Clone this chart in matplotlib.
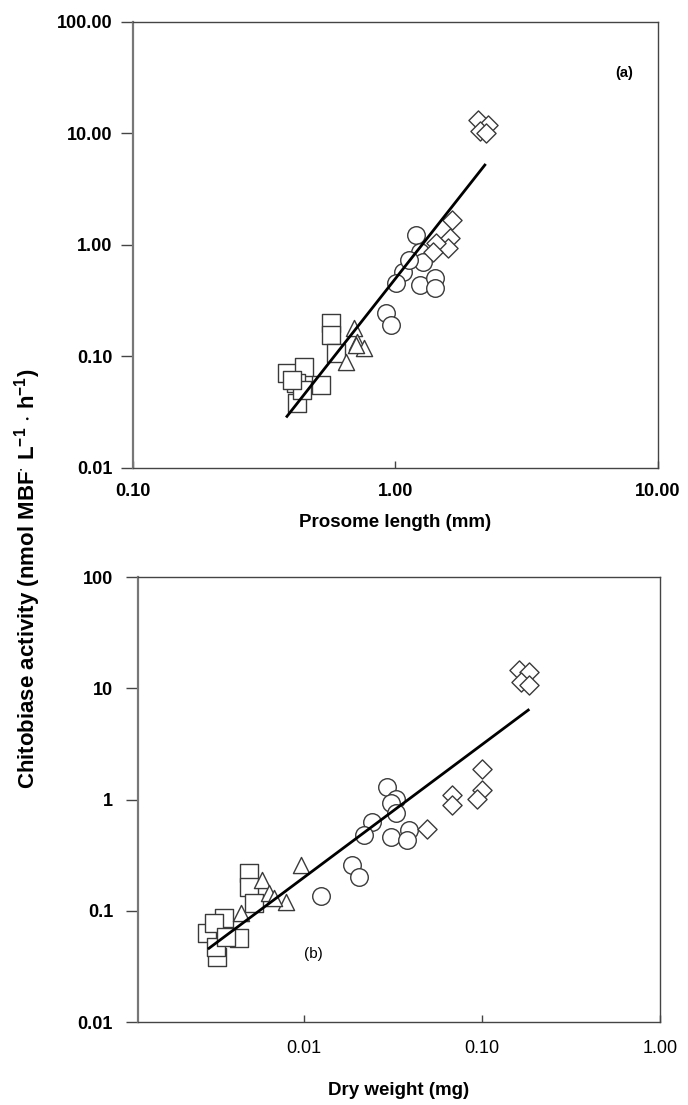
import numpy as np
import matplotlib
matplotlib.use("Agg")
import matplotlib.pyplot as plt
from matplotlib.ticker import FixedLocator, NullLocator

plt.rcParams['font.family'] = ['Liberation Sans', 'DejaVu Sans']
plt.rcParams['mathtext.default'] = 'regular'

# ---- panel (a): prosome length (mm) vs chitobiase activity ----
a_sq_x = [0.567, 0.567, 0.593, 0.386, 0.448, 0.418, 0.521, 0.421, 0.440, 0.405]
a_sq_y = [0.199, 0.156, 0.107, 0.071, 0.081, 0.058, 0.056, 0.038, 0.050, 0.062]
a_tri_x = [0.696, 0.714, 0.761, 0.647, 0.710]
a_tri_y = [0.179, 0.136, 0.118, 0.090, 0.127]
a_ci_x = [1.20, 1.236, 1.27, 1.067, 1.006, 1.236, 1.41, 1.41, 0.92, 0.962, 1.13]
a_ci_y = [1.23, 0.87, 0.708, 0.577, 0.453, 0.438, 0.503, 0.409, 0.244, 0.192, 0.73]
a_di_x = [1.635, 1.61, 1.58, 1.43, 1.39, 2.07, 2.26, 2.10, 2.21]
a_di_y = [1.68, 1.15, 0.934, 1.035, 0.87, 13.2, 11.9, 10.5, 10.0]
a_fit = (0.50, 2.99)          # y = a * x^b
a_fit_range = (0.386, 2.19)

# ---- panel (b): dry weight (mg) vs chitobiase activity ----
b_sq_x = [0.00491, 0.00491, 0.00524, 0.00286, 0.00355, 0.00312, 0.00431, 0.00326, 0.00319, 0.00363]
b_sq_y = [0.217, 0.164, 0.117, 0.0627, 0.0855, 0.0772, 0.0565, 0.0387, 0.0475, 0.0585]
b_tri_x = [0.00958, 0.00583, 0.00636, 0.00789, 0.00441, 0.00678]
b_tri_y = [0.258, 0.189, 0.144, 0.121, 0.0948, 0.129]
b_ci_x = [0.0124, 0.0187, 0.0204, 0.0294, 0.0327, 0.0307, 0.0327, 0.0242, 0.0217, 0.0307, 0.0389, 0.038]
b_ci_y = [0.136, 0.258, 0.202, 1.30, 1.02, 0.924, 0.751, 0.632, 0.48, 0.463, 0.532, 0.432]
b_di_x = [0.0493, 0.0681, 0.0681, 0.1005, 0.1005, 0.094, 0.161, 0.184, 0.165, 0.184]
b_di_y = [0.54, 1.10, 0.893, 1.87, 1.22, 1.02, 14.6, 14.1, 11.5, 10.7]
b_fit = (48.7, 1.194)
b_fit_range = (0.00293, 0.182)

ylabel = r'Chitobiase activity (nmol MBF$^{\cdot}$ L$^{-1}$ $\cdot$ h$^{-1}$)'

fig = plt.figure(figsize=(6.88, 11.05), dpi=100)
ax1 = fig.add_axes([0.1933, 0.5765, 0.763, 0.4036])
ax2 = fig.add_axes([0.2006, 0.0751, 0.7587, 0.4027])

edge = '#3a3a3a'


def draw_points(ax, sq, tri, ci, di, fit, rng):
    kw = dict(facecolors='white', edgecolors=edge, linewidths=1.0, zorder=3)
    ax.scatter(sq[0], sq[1], marker='s', s=150, **kw)
    ax.scatter(tri[0], tri[1], marker='^', s=135, **kw)
    ax.scatter(ci[0], ci[1], marker='o', s=160, **kw)
    ax.scatter(di[0], di[1], marker='D', s=95, **kw)
    xx = np.array(rng)
    ax.plot(xx, fit[0] * xx ** fit[1], color='black', lw=2.0, zorder=4)


draw_points(ax1, (a_sq_x, a_sq_y), (a_tri_x, a_tri_y), (a_ci_x, a_ci_y),
            (a_di_x, a_di_y), a_fit, a_fit_range)
draw_points(ax2, (b_sq_x, b_sq_y), (b_tri_x, b_tri_y), (b_ci_x, b_ci_y),
            (b_di_x, b_di_y), b_fit, b_fit_range)

for ax in (ax1, ax2):
    ax.set_xscale('log')
    ax.set_yscale('log')
    ax.set_ylim(0.01, 100)
    for sp in ax.spines.values():
        sp.set_color('#444444')
        sp.set_linewidth(1.0)
    ax.spines['left'].set_linewidth(1.6)
    ax.spines['left'].set_color('#777777')
    ax.xaxis.set_minor_locator(NullLocator())
    ax.yaxis.set_minor_locator(NullLocator())
    ax.tick_params(axis='y', direction='out', length=9, width=1.0, colors='#444444',
                   labelcolor='black')
    ax.tick_params(axis='x', direction='in', length=5, width=1.0, colors='#444444',
                   labelcolor='black')

# panel (a) axes
ax1.set_xlim(0.1, 10)
ax1.xaxis.set_major_locator(FixedLocator([0.1, 1, 10]))
ax1.set_xticklabels(['0.10', '1.00', '10.00'], fontsize=13, fontweight='bold')
ax1.yaxis.set_major_locator(FixedLocator([0.01, 0.1, 1, 10, 100]))
ax1.set_yticklabels(['0.01', '0.10', '1.00', '10.00', '100.00'], fontsize=13, fontweight='bold')
ax1.tick_params(axis='x', pad=11)
ax1.tick_params(axis='y', pad=6)
ax1.set_xlabel('Prosome length (mm)', fontsize=13.5, fontweight='bold', labelpad=10)
ax1.text(0.935, 0.885, '(a)', transform=ax1.transAxes, fontsize=10.5, fontweight='bold',
         ha='center', va='center')

# panel (b) axes
ax2.set_xlim(0.00117, 1.0)
ax2.xaxis.set_major_locator(FixedLocator([0.01, 0.1, 1]))
ax2.set_xticklabels(['0.01', '0.10', '1.00'], fontsize=13)
ax2.yaxis.set_major_locator(FixedLocator([0.01, 0.1, 1, 10, 100]))
ax2.set_yticklabels(['0.01', '0.1', '1', '10', '100'], fontsize=13, fontweight='bold')
ax2.tick_params(axis='x', pad=13)
ax2.tick_params(axis='y', pad=9)
ax2.set_xlabel('Dry weight (mg)', fontsize=13.5, fontweight='bold', labelpad=18)
ax2.text(0.335, 0.152, '(b)', transform=ax2.transAxes, fontsize=11,
         ha='center', va='center')

fig.text(0.040, 0.476, ylabel, rotation=90, fontsize=16, fontweight='bold',
         ha='center', va='center')

fig.savefig('out.png', dpi=100, facecolor='white')
